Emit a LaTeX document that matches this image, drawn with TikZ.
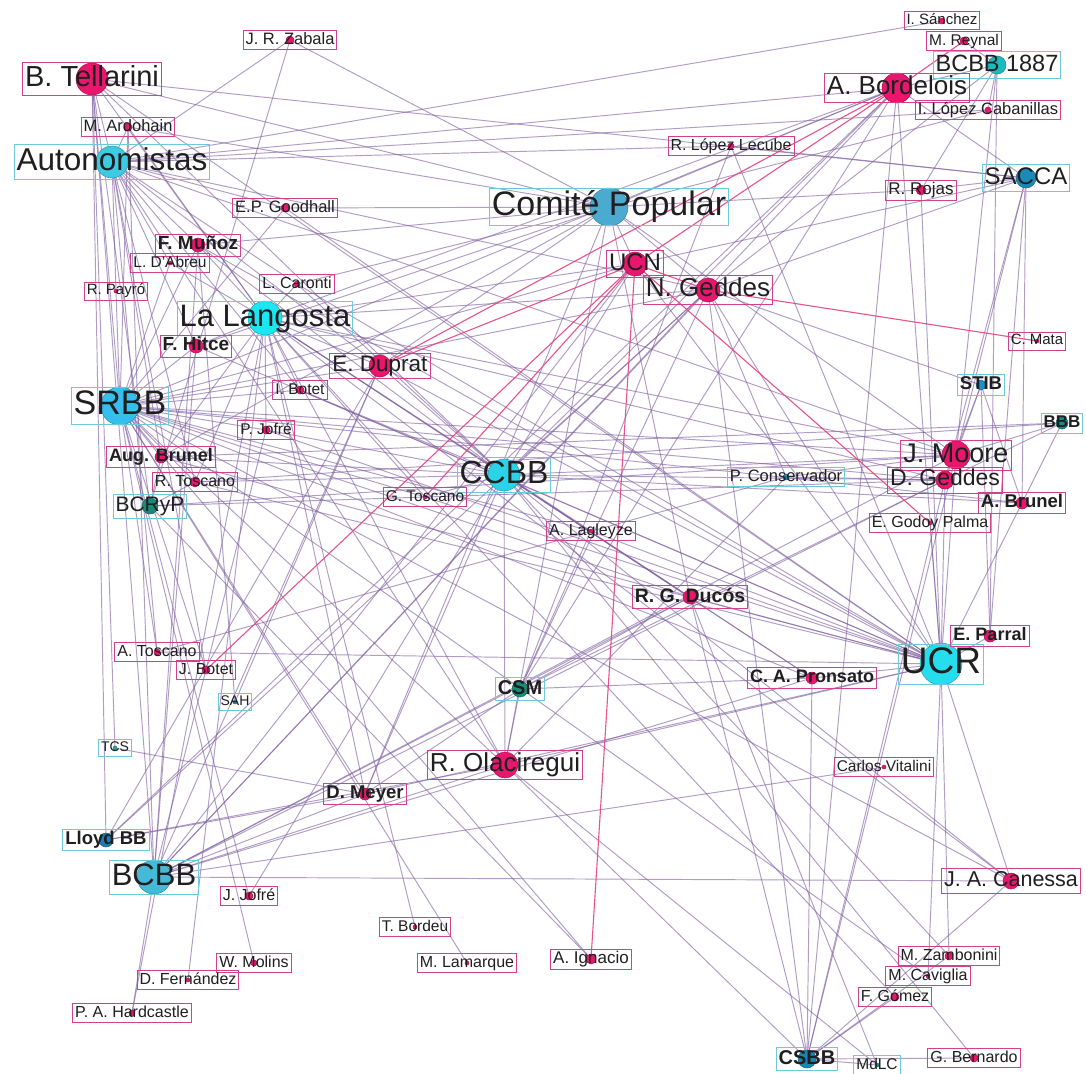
\documentclass[tikz,border=0pt]{standalone}
\usepackage{fontspec}
\setmainfont{Liberation Sans}
\pgfdeclarelayer{bg}
\pgfdeclarelayer{edges}
\pgfsetlayers{bg,edges,main}
\definecolor{pdot}{HTML}{E8166C}
\definecolor{pbox}{HTML}{D4408A}
\definecolor{obox}{HTML}{6ECAD8}
\definecolor{epur}{HTML}{8060A2}
\definecolor{epink}{HTML}{E8407F}
\definecolor{cauto}{HTML}{3CCBE2}
\definecolor{clang}{HTML}{1BE6F2}
\definecolor{ccomi}{HTML}{4AAAD0}
\definecolor{csrbb}{HTML}{36BEEE}
\definecolor{cccbb}{HTML}{2CD3E8}
\definecolor{cucr}{HTML}{26DDEE}
\definecolor{cbcbb}{HTML}{46B9D9}
\definecolor{csacca}{HTML}{1A8BB8}
\definecolor{cbe}{HTML}{1BBABF}
\definecolor{cstib}{HTML}{1A8FC8}
\definecolor{cbbb}{HTML}{1A8988}
\definecolor{cpcons}{HTML}{1E86B0}
\definecolor{cbcryp}{HTML}{1A8878}
\definecolor{ccsm}{HTML}{1A8C78}
\definecolor{csah}{HTML}{1E90A0}
\definecolor{ctcs}{HTML}{22A4A4}
\definecolor{clloyd}{HTML}{1A7DB8}
\definecolor{ccsbb}{HTML}{1A84B6}
\definecolor{cmdlc}{HTML}{1A9292}
\newcommand\Dot[5]{\node[dotn, fill=#5, draw=#5!75!black, minimum size=#4*2pt] (#1) at (#2,#3) {};}
\newcommand\Lab[5]{\pgfmathsetmacro\lth{0.76*#3}\pgfmathsetmacro\ltd{0.24*#3}%
  \node[#2, font=\fontsize{#3}{#3}\selectfont#4, text height=\lth pt, text depth=\ltd pt] at (#1.center) {#5};}
\begin{document}
\begin{tikzpicture}[x=1pt,y=-1pt,
  dotn/.style={circle, inner sep=0pt, line width=0.5pt},
  plab/.style={draw=pbox, line width=1pt, inner xsep=2.5pt, inner ysep=1.5pt, text=black!88},
  olab/.style={draw=obox, line width=1pt, inner xsep=2.5pt, inner ysep=1.5pt, text=black!88},
  pe/.style={draw=epur, line width=0.95pt, opacity=0.62},
  pk/.style={draw=epink, line width=1.1pt, opacity=0.9}]
\useasboundingbox (0,0) rectangle (1086,1073);
\begin{pgfonlayer}{bg}
\fill[white] (0,0) rectangle (1086,1073);
\end{pgfonlayer}
% organisations
\Dot{auto}{112}{162}{16}{cauto}
\Dot{lang}{265}{318}{17}{clang}
\Dot{comi}{609}{207}{19}{ccomi}
\Dot{srbb}{120}{406}{19}{csrbb}
\Dot{ccbb}{504}{475}{16}{cccbb}
\Dot{ucr}{941}{664}{21}{cucr}
\Dot{bcbb}{154}{877}{17}{cbcbb}
\Dot{sacca}{1026}{178}{10}{csacca}
\Dot{b1887}{997}{65}{9}{cbe}
\Dot{stib}{981}{385}{5}{cstib}
\Dot{bbb}{1062}{423}{6}{cbbb}
\Dot{pcons}{786}{477}{3}{cpcons}
\Dot{bcryp}{150}{506}{8}{cbcryp}
\Dot{csm}{520}{689}{8}{ccsm}
\Dot{sah}{235}{702}{2}{csah}
\Dot{tcs}{115}{748}{2}{ctcs}
\Dot{lloyd}{106}{840}{7}{clloyd}
\Dot{csbb}{807}{1059}{9}{ccsbb}
\Dot{mdlc}{877}{1065}{2}{cmdlc}
% persons
\Dot{tell}{92}{79}{16}{pdot}
\Dot{zaba}{290}{40}{4}{pdot}
\Dot{ardo}{128}{127}{4}{pdot}
\Dot{good}{285}{208}{4}{pdot}
\Dot{muno}{198}{245}{7}{pdot}
\Dot{dabr}{170}{263}{2}{pdot}
\Dot{payr}{116}{291}{2}{pdot}
\Dot{caro}{297}{284}{3}{pdot}
\Dot{hitc}{196}{346}{7}{pdot}
\Dot{dupr}{380}{366}{11}{pdot}
\Dot{ibot}{300}{390}{4}{pdot}
\Dot{pjof}{266}{430}{4}{pdot}
\Dot{augb}{161}{457}{6}{pdot}
\Dot{rtos}{195}{482}{5}{pdot}
\Dot{gtos}{425}{497}{2}{pdot}
\Dot{ucn}{635}{264}{12}{pdot}
\Dot{nged}{708}{290}{12}{pdot}
\Dot{lecu}{731}{146}{3}{pdot}
\Dot{isan}{942}{21}{3}{pdot}
\Dot{reyn}{964}{41}{4}{pdot}
\Dot{bord}{897}{88}{15}{pdot}
\Dot{lcab}{988}{110}{3}{pdot}
\Dot{rroj}{921}{190}{5}{pdot}
\Dot{cmat}{1037}{341}{2}{pdot}
\Dot{jmoo}{956}{455}{14}{pdot}
\Dot{dged}{945}{480}{9}{pdot}
\Dot{abru}{1022}{503}{6}{pdot}
\Dot{egod}{930}{523}{2}{pdot}
\Dot{lagl}{591}{531}{2}{pdot}
\Dot{rgdu}{690}{597}{7}{pdot}
\Dot{epar}{990}{636}{6}{pdot}
\Dot{pron}{812}{678}{6}{pdot}
\Dot{atos}{157}{652}{3}{pdot}
\Dot{jbot}{206}{670}{4}{pdot}
\Dot{oluc}{505}{765}{13}{pdot}
\Dot{dmey}{365}{794}{6}{pdot}
\Dot{cvit}{884}{767}{2}{pdot}
\Dot{cane}{1011}{881}{8}{pdot}
\Dot{jjof}{249}{896}{4}{pdot}
\Dot{tbor}{415}{927}{2}{pdot}
\Dot{mlam}{467}{963}{2}{pdot}
\Dot{aign}{591}{959}{5}{pdot}
\Dot{wmol}{254}{963}{3}{pdot}
\Dot{dfer}{188}{980}{2}{pdot}
\Dot{hard}{132}{1013}{3}{pdot}
\Dot{zamb}{949}{956}{4}{pdot}
\Dot{cavi}{928}{976}{2}{pdot}
\Dot{fgom}{895}{997}{4}{pdot}
\Dot{gber}{974}{1058}{4}{pdot}
% edges
\begin{pgfonlayer}{edges}
\foreach \a/\b in {tell/auto,tell/srbb,tell/lang,tell/ccbb,tell/sacca,tell/comi,tell/lloyd,tell/bcbb,tell/bcryp,tell/ucr,tell/tcs,
 ardo/auto,ardo/lang,ardo/srbb,ardo/comi,ardo/bcbb,
 zaba/auto,zaba/comi,zaba/bcryp,
 good/auto,good/srbb,good/comi,good/ucr,
 muno/auto,muno/lang,muno/srbb,muno/comi,muno/ccbb,muno/ucr,muno/bcbb,muno/sah,
 dabr/auto,dabr/srbb,dabr/lang,payr/auto,payr/srbb,
 caro/auto,caro/lang,caro/ccbb,caro/comi,caro/ucr,
 hitc/auto,hitc/lang,hitc/srbb,hitc/comi,hitc/bcbb,hitc/ucr,
 dupr/auto,dupr/lang,dupr/srbb,dupr/ccbb,dupr/bcbb,dupr/lloyd,dupr/ucr,dupr/sah,dupr/comi,
 ibot/lang,ibot/srbb,ibot/ccbb,ibot/auto,ibot/ucr,
 pjof/srbb,pjof/lang,pjof/ccbb,pjof/bcbb,pjof/ucr,
 augb/srbb,augb/auto,augb/lang,augb/bcryp,augb/ccbb,augb/ucr,augb/bbb,augb/comi,
 rtos/srbb,rtos/auto,rtos/lang,rtos/bcryp,rtos/ucr,rtos/ccbb,rtos/bbb,
 gtos/ccbb,gtos/lang,gtos/srbb,gtos/ucr,
 ucn/comi,ucn/sacca,ucn/ucr,ucn/ccbb,ucn/srbb,ucn/lang,ucn/bcbb,
 nged/comi,nged/sacca,nged/b1887,nged/ucr,nged/ccbb,nged/bcbb,nged/srbb,nged/lang,nged/auto,nged/csbb,nged/csm,nged/lloyd,nged/stib,nged/pcons,
 bord/b1887,bord/comi,bord/sacca,bord/ucr,bord/ccbb,bord/srbb,bord/lang,bord/auto,bord/bcbb,bord/csm,bord/lloyd,bord/csbb,
 lecu/sacca,lecu/auto,lecu/csm,lecu/ucr,isan/auto,reyn/b1887,
 lcab/b1887,lcab/auto,lcab/comi,
 rroj/b1887,rroj/comi,rroj/ucr,rroj/sacca,
 jmoo/stib,jmoo/bbb,jmoo/sacca,jmoo/b1887,jmoo/ucr,jmoo/ccbb,jmoo/srbb,jmoo/lang,jmoo/comi,jmoo/csbb,jmoo/bcbb,jmoo/pcons,jmoo/bcryp,jmoo/auto,
 dged/ucr,dged/stib,dged/sacca,dged/ccbb,dged/srbb,dged/bcbb,dged/pcons,dged/csm,dged/bbb,dged/csbb,dged/bcryp,dged/lang,
 abru/ucr,abru/sacca,abru/bbb,abru/srbb,abru/ccbb,abru/stib,
 egod/ucr,lagl/srbb,lagl/lang,lagl/csm,lagl/ucr,
 rgdu/ucr,rgdu/ccbb,rgdu/bcbb,rgdu/lang,rgdu/srbb,rgdu/csbb,rgdu/comi,rgdu/csm,
 epar/ucr,epar/stib,epar/b1887,epar/sacca,
 pron/ucr,pron/csm,pron/bcbb,pron/ccbb,pron/lang,pron/csbb,pron/srbb,
 atos/srbb,atos/ucr,atos/auto,atos/pcons,jbot/srbb,jbot/auto,
 oluc/ccbb,oluc/csm,oluc/bcbb,oluc/ucr,oluc/lang,oluc/lloyd,oluc/srbb,oluc/comi,oluc/csbb,oluc/pcons,oluc/auto,
 dmey/bcbb,dmey/lang,dmey/srbb,dmey/tcs,dmey/lloyd,dmey/ucr,dmey/ccbb,dmey/comi,dmey/csm,
 cvit/bcbb,cane/ucr,cane/csbb,cane/lang,cane/srbb,cane/ccbb,cane/bcbb,
 jjof/ccbb,jjof/srbb,wmol/srbb,dfer/lang,hard/bcbb,hard/lang,tbor/lang,mlam/srbb,
 aign/srbb,aign/bcryp,zamb/ucr,zamb/ccbb,cavi/ucr,cavi/srbb,
 fgom/csbb,fgom/lang,gber/csbb,gber/ccbb,mdlc/oluc,mdlc/rgdu,mdlc/csbb,zamb/csbb}
 \draw[pe] (\a.center) -- (\b.center);
\foreach \a/\b in {ucn/dupr,bord/ucn,bord/dupr,nged/cmat,ucn/aign,ucn/jbot,ucn/egod,reyn/bord,gtos/ucn,ucn/nged}
 \draw[pk] (\a.center) -- (\b.center);
\end{pgfonlayer}
% labels
\Lab{auto}{olab}{31.5}{}{Autonomistas}
\Lab{lang}{olab}{31}{}{La Langosta}
\Lab{comi}{olab}{34}{}{Comité Popular}
\Lab{srbb}{olab}{34}{}{SRBB}
\Lab{ccbb}{olab}{32}{}{CCBB}
\Lab{ucr}{olab}{37}{}{UCR}
\Lab{bcbb}{olab}{31}{}{BCBB}
\Lab{sacca}{olab}{24}{}{SACCA}
\Lab{b1887}{olab}{23.5}{}{BCBB 1887}
\Lab{stib}{olab}{18.5}{\bfseries}{STIB}
\Lab{bbb}{olab}{17}{\bfseries}{BBB}
\Lab{pcons}{olab}{16.5}{}{P. Conservador}
\Lab{bcryp}{olab}{21}{}{BCRyP}
\Lab{csm}{olab}{20}{\bfseries}{CSM}
\Lab{sah}{olab}{14}{}{SAH}
\Lab{tcs}{olab}{14}{}{TCS}
\Lab{lloyd}{olab}{18.5}{\bfseries}{Lloyd BB}
\Lab{csbb}{olab}{20}{\bfseries}{CSBB}
\Lab{mdlc}{olab}{15.5}{}{MdLC}
\Lab{tell}{plab}{29}{}{B. Tellarini}
\Lab{zaba}{plab}{16.5}{}{J. R. Zabala}
\Lab{ardo}{plab}{16.5}{}{M. Ardohain}
\Lab{good}{plab}{16.5}{}{E.P. Goodhall}
\Lab{muno}{plab}{19}{\bfseries}{F. Muñoz}
\Lab{dabr}{plab}{15.5}{}{L. D'Abreu}
\Lab{payr}{plab}{15}{}{R. Payró}
\Lab{caro}{plab}{16}{}{L. Caronti}
\Lab{hitc}{plab}{19}{\bfseries}{F. Hitce}
\Lab{dupr}{plab}{22.5}{}{E. Duprat}
\Lab{ibot}{plab}{15.5}{}{I. Botet}
\Lab{pjof}{plab}{15.5}{}{P. Jofré}
\Lab{augb}{plab}{18}{\bfseries}{Aug. Brunel}
\Lab{rtos}{plab}{16}{}{R. Toscano}
\Lab{gtos}{plab}{15.5}{}{G. Toscano}
\Lab{ucn}{plab}{24}{}{UCN}
\Lab{nged}{plab}{26}{}{N. Geddes}
\Lab{lecu}{plab}{16}{}{R. López Lecube}
\Lab{isan}{plab}{15}{}{I. Sánchez}
\Lab{reyn}{plab}{15.5}{}{M. Reynal}
\Lab{bord}{plab}{26}{}{A. Bordelois}
\Lab{lcab}{plab}{16.5}{}{I. López Cabanillas}
\Lab{rroj}{plab}{17}{}{R. Rojas}
\Lab{cmat}{plab}{15}{}{C. Mata}
\Lab{jmoo}{plab}{27}{}{J. Moore}
\Lab{dged}{plab}{23}{}{D. Geddes}
\Lab{abru}{plab}{18.5}{\bfseries}{A. Brunel}
\Lab{egod}{plab}{16}{}{E. Godoy Palma}
\Lab{lagl}{plab}{16}{}{A. Lagleyze}
\Lab{rgdu}{plab}{19.5}{\bfseries}{R. G. Ducós}
\Lab{epar}{plab}{18}{\bfseries}{E. Parral}
\Lab{pron}{plab}{18}{\bfseries}{C. A. Pronsato}
\Lab{atos}{plab}{16}{}{A. Toscano}
\Lab{jbot}{plab}{16}{}{J. Botet}
\Lab{oluc}{plab}{26}{}{R. Olaciregui}
\Lab{dmey}{plab}{18.5}{\bfseries}{D. Meyer}
\Lab{cvit}{plab}{15.5}{}{Carlos Vitalini}
\Lab{cane}{plab}{21.5}{}{J. A. Canessa}
\Lab{jjof}{plab}{16}{}{J. Jofré}
\Lab{tbor}{plab}{15.5}{}{T. Bordeu}
\Lab{mlam}{plab}{16}{}{M. Lamarque}
\Lab{aign}{plab}{17}{}{A. Ignacio}
\Lab{wmol}{plab}{16}{}{W. Molins}
\Lab{dfer}{plab}{16}{}{D. Fernández}
\Lab{hard}{plab}{16}{}{P. A. Hardcastle}
\Lab{zamb}{plab}{16}{}{M. Zambonini}
\Lab{cavi}{plab}{16}{}{M. Caviglia}
\Lab{fgom}{plab}{16}{}{F. Gómez}
\Lab{gber}{plab}{16}{}{G. Bernardo}
\end{tikzpicture}
\end{document}
